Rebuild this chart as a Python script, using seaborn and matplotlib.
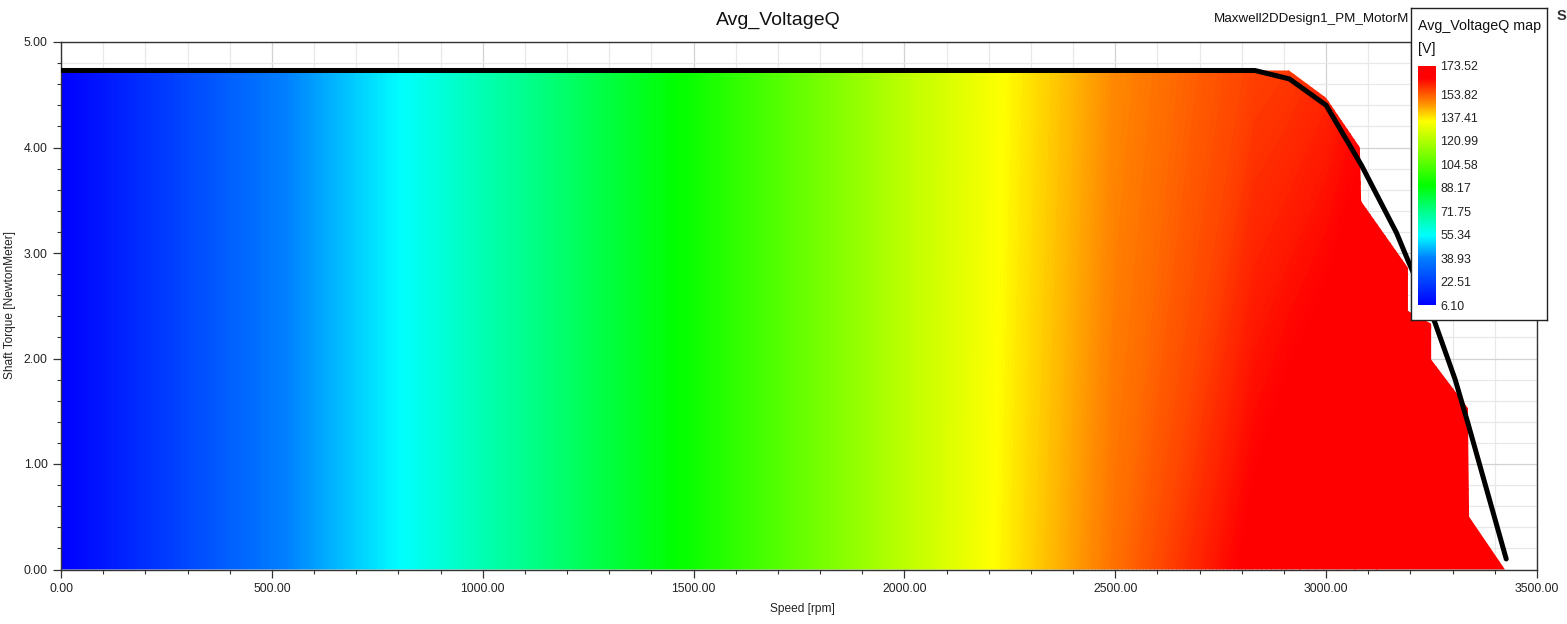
import numpy as np
import matplotlib
matplotlib.use("Agg")
import matplotlib.pyplot as plt
from matplotlib.colors import LinearSegmentedColormap, Normalize
from matplotlib.patches import Polygon
from matplotlib.ticker import MultipleLocator, FormatStrFormatter
import seaborn as sns

# ---------------- data ----------------
# Avg_VoltageQ field sampled along speed at the bottom (0 Nm) and top (4.73 Nm)
field_speed = [0, 75, 500, 1000, 1500, 2000, 2500, 2830, 2912, 3000, 3100, 3200, 3300, 3430]
field_torque = [0.0, 4.73]
vq_low = [6.10, 10.5, 37.0, 66.0, 92.0, 123.0, 151.0, 167.0, 170.0, 172.0, 173.0, 173.5, 173.5, 173.52]
vq_high = [6.10, 10.5, 37.0, 66.0, 92.0, 123.0, 148.0, 157.0, 158.0, 160.0, 164.0, 168.0, 170.0, 172.0]

# operating region (where the map is defined)
region_speed = [0, 2912, 3000, 3080, 3083, 3194, 3194, 3249, 3249, 3336, 3339, 3424, 0]
region_torque = [4.73, 4.73, 4.47, 4.00, 3.49, 2.86, 2.45, 2.33, 1.99, 1.53, 0.50, 0.0, 0.0]

# torque-speed envelope (black curve)
curve_speed = [0, 2831, 2913, 3000, 3084, 3167, 3194, 3258, 3306, 3336, 3427]
curve_torque = [4.73, 4.73, 4.65, 4.40, 3.83, 3.19, 2.93, 2.34, 1.80, 1.39, 0.10]

cbar_ticks = [6.10, 22.51, 38.93, 55.34, 71.75, 88.17, 104.58, 120.99, 137.41, 153.82, 173.52]
vmin, vmax = 6.10, 173.52

title = "Avg_VoltageQ"
design_name = "Maxwell2DDesign1_PM_MotorM"
legend_title = "Avg_VoltageQ map"
legend_unit = "[V]"
x_label = "Speed [rpm]"
y_label = "Shaft Torque [NewtonMeter]"

# ---------------- style ----------------
sns.set_style("white")
plt.rcParams['font.family'] = ['Liberation Sans', 'DejaVu Sans']
plt.rcParams['text.color'] = '#1a1a1a'

cmap = LinearSegmentedColormap.from_list(
    "maxwell",
    [(0.0, (0, 0, 1)), (0.196, (0, 0.5, 1)), (0.29, (0, 1, 1)),
     (0.39, (0, 1, 0.55)), (0.50, (0, 1, 0)), (0.77, (1, 1, 0)), (0.845, (1, 0.55, 0)),
     (0.95, (1, 0, 0)), (1.0, (1, 0, 0))], N=512)
norm = Normalize(vmin, vmax)

W, H = 1567, 624
fig = plt.figure(figsize=(W / 100, H / 100), dpi=100)
fig.patch.set_facecolor('white')

ax = fig.add_axes([61 / W, 1 - 569.5 / H, 1476 / W, 527.5 / H])
ax.set_xlim(0, 3500)
ax.set_ylim(0, 5)
ax.set_axisbelow(True)

# grid
ax.xaxis.set_major_locator(MultipleLocator(500))
ax.xaxis.set_minor_locator(MultipleLocator(100))
ax.yaxis.set_major_locator(MultipleLocator(1))
ax.yaxis.set_minor_locator(MultipleLocator(0.2))
ax.xaxis.set_major_formatter(FormatStrFormatter('%.2f'))
ax.yaxis.set_major_formatter(FormatStrFormatter('%.2f'))
ax.grid(which='minor', color='#e8e8e8', linewidth=0.9)
ax.grid(which='major', color='#d2d2d2', linewidth=0.9)

# colour field (values interpolated by contourf), clipped to the operating region
X, Y = np.meshgrid(field_speed, field_torque)
C = np.array([vq_low, vq_high])
levels = np.linspace(vmin, vmax, 400)
cs = ax.contourf(X, Y, C, levels=levels, cmap=cmap, norm=norm, zorder=1,
                 antialiased=False, extend='both')
poly = Polygon(np.column_stack([region_speed, region_torque]), closed=True,
               facecolor='none', edgecolor='none', transform=ax.transData)
ax.add_patch(poly)
cs.set_clip_path(poly)

# torque-speed curve
sns.lineplot(x=curve_speed, y=curve_torque, ax=ax, color='black', linewidth=3.6,
             sort=False, estimator=None, zorder=3)

for s in ax.spines.values():
    s.set_color('#333333')
    s.set_linewidth(1.0)
ax.tick_params(which='major', direction='out', length=5.5, width=0.9, color='#333333',
               labelsize=8.8, labelcolor='#222222', pad=4, bottom=True, left=True)
ax.tick_params(which='minor', direction='out', length=3, width=0.8, color='#333333',
               bottom=True, left=True)
ax.set_xlabel("")
ax.set_ylabel("")

fig.text(802 / W, 1 - 609 / H, x_label, ha='center', va='center', fontsize=8.6, color='#222222')
fig.text(10 / W, 1 - 305 / H, y_label, ha='center', va='center', rotation=90,
         fontsize=8.6, color='#222222')
fig.text(778.5 / W, 1 - 20 / H, title, ha='center', va='center', fontsize=14, color='#111111')
fig.text(1214 / W, 1 - 19 / H, design_name, ha='left', va='center', fontsize=9.6, color='#111111')
fig.text(1557 / W, 1 - 16 / H, "S", ha='left', va='center', fontsize=10.5,
         fontweight='bold', color='#333333')

# legend box with colour bar
lax = fig.add_axes([1411 / W, 1 - 320 / H, 136 / W, 312 / H])
lax.set_zorder(5)
lax.set_facecolor('white')
lax.set_xticks([])
lax.set_yticks([])
for s in lax.spines.values():
    s.set_color('#222222')
    s.set_linewidth(1.0)
fig.text(1418 / W, 1 - 26 / H, legend_title, ha='left', va='center', fontsize=10.3,
         color='#111111', zorder=10)
fig.text(1418 / W, 1 - 49 / H, legend_unit, ha='left', va='center', fontsize=10.3,
         color='#111111', zorder=10)

cax = fig.add_axes([1418 / W, 1 - 305 / H, 18 / W, 239 / H])
cax.set_zorder(6)
sm = plt.cm.ScalarMappable(norm=norm, cmap=cmap)
cb = fig.colorbar(sm, cax=cax, ticks=cbar_ticks)
cb.outline.set_visible(False)
cb.ax.tick_params(length=0, labelsize=8.9, pad=3, labelcolor='#222222')
cb.ax.set_yticklabels([f"{v:.2f}" for v in cbar_ticks])

fig.savefig("out.png", dpi=100, facecolor='white')
